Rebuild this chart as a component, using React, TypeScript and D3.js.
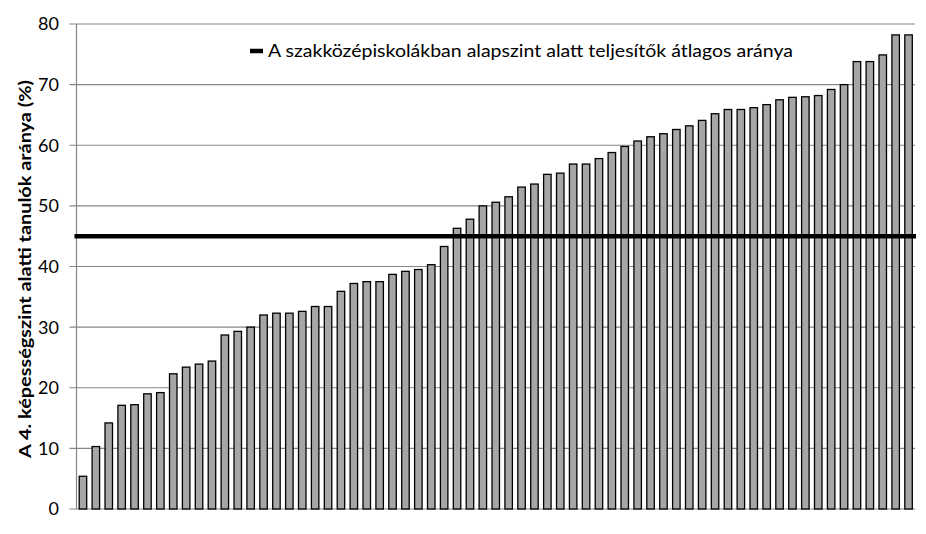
import React from 'react';
import * as d3 from 'd3';

// ── Data ─────────────────────────────────────────────────────────────────────
const schoolShares = [
  5.4, 10.3, 14.2, 17.1, 17.2, 19.0, 19.2, 22.3, 23.4, 23.9,
  24.4, 28.7, 29.3, 30.0, 32.0, 32.3, 32.3, 32.6, 33.4, 33.4,
  35.9, 37.2, 37.5, 37.5, 38.7, 39.2, 39.5, 40.3, 43.3, 46.3,
  47.8, 50.0, 50.6, 51.5, 53.1, 53.6, 55.2, 55.4, 56.9, 56.9,
  57.8, 58.8, 59.8, 60.7, 61.4, 61.9, 62.6, 63.2, 64.1, 65.2,
  65.9, 65.9, 66.2, 66.7, 67.5, 67.9, 68.0, 68.2, 69.2, 70.0,
  73.8, 73.8, 74.9, 78.2, 78.2,
];
const averageShare = 45;
const yTicks = [0, 10, 20, 30, 40, 50, 60, 70, 80];
const legendLabel = 'A szakközépiskolákban alapszint alatt teljesítők átlagos aránya';
const yTitle = 'A 4. képességszint alatti tanulók aránya (%)';

// ── Layout ───────────────────────────────────────────────────────────────────
const W = 926;
const H = 534;
const PLOT = { left: 76.5, right: 915, top: 24, bottom: 509 };
const FONT = 'Lato, "Open Sans", "Liberation Sans", sans-serif';

export default function App() {
  const x = d3
    .scaleBand<number>()
    .domain(d3.range(schoolShares.length))
    .range([PLOT.left, PLOT.right])
    .paddingInner(0.42)
    .paddingOuter(0.21);

  const y = d3.scaleLinear().domain([0, 80]).range([PLOT.bottom, PLOT.top]);

  return (
    <svg
      width={W}
      height={H}
      style={{ position: 'absolute', left: 0, top: 0, background: '#fff' }}
      fontFamily={FONT}
    >
      {/* gridlines + tick labels */}
      {yTicks.map((t) => (
        <g key={t}>
          <line
            x1={PLOT.left - 7}
            x2={PLOT.right}
            y1={y(t)}
            y2={y(t)}
            stroke="#868686"
            strokeWidth={1.2}
          />
          <text
            x={59}
            y={y(t)}
            dy="0.36em"
            textAnchor="end"
            fontSize={18}
            fill="#000"
          >
            {t}
          </text>
        </g>
      ))}

      {/* y axis line */}
      <line
        x1={PLOT.left}
        x2={PLOT.left}
        y1={PLOT.top}
        y2={PLOT.bottom}
        stroke="#868686"
        strokeWidth={1.2}
      />

      {/* bars */}
      {schoolShares.map((v, i) => (
        <rect
          key={i}
          x={x(i)}
          y={y(v)}
          width={x.bandwidth()}
          height={y(0) - y(v)}
          fill="#a6a6a6"
          stroke="#000"
          strokeWidth={1.3}
        />
      ))}

      {/* average reference line */}
      <line
        x1={PLOT.left - 2}
        x2={PLOT.right + 1}
        y1={y(averageShare)}
        y2={y(averageShare)}
        stroke="#000"
        strokeWidth={4.5}
      />

      {/* legend */}
      <line x1={250} x2={263} y1={51} y2={51} stroke="#000" strokeWidth={4.5} />
      <text
        x={268}
        y={51}
        dy="0.35em"
        fontSize={17}
        fill="#000"
        textLength={525}
        lengthAdjust="spacingAndGlyphs"
      >
        {legendLabel}
      </text>

      {/* y axis title */}
      <text
        transform="translate(25, 269) rotate(-90)"
        textAnchor="middle"
        fontSize={17}
        fontWeight="bold"
        fill="#000"
        dy="0.35em"
        textLength={378}
        lengthAdjust="spacingAndGlyphs"
      >
        {yTitle}
      </text>
    </svg>
  );
}
